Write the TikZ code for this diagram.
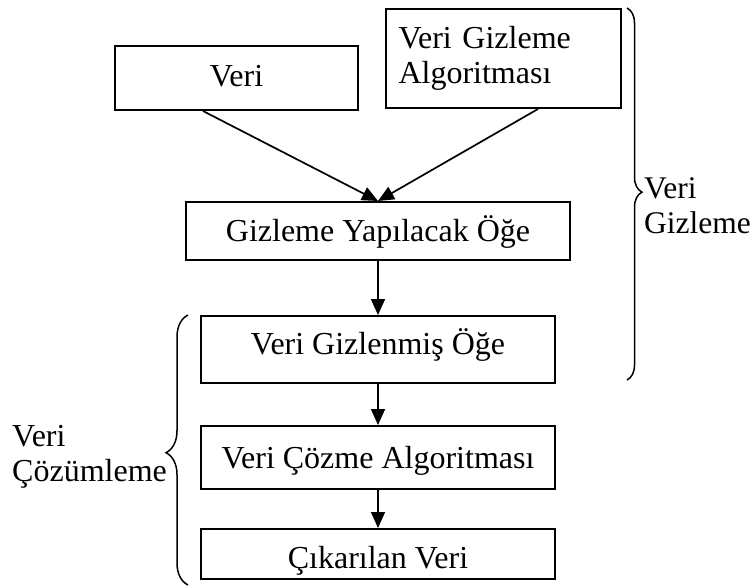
\documentclass[tikz,border=0pt]{standalone}
\usepackage{fontspec}
\setmainfont{Liberation Serif}
\usetikzlibrary{arrows.meta,decorations.pathreplacing}
\begin{document}
\begin{tikzpicture}[x=1pt,y=-1pt,
  font=\fontsize{32}{35}\selectfont,
  box/.style={draw, line width=2pt, inner xsep=0pt, inner ysep=0pt,
              anchor=north west, align=center},
  link/.style={line width=1.7pt, -{Triangle[length=16pt,width=14pt]}},
  curly/.style={line width=1.5pt, decorate,
                decoration={brace, amplitude=15pt, aspect=0.5}},
  label/.style={anchor=base west, inner sep=0pt, align=left}
]
\useasboundingbox (0,0) rectangle (752,587);

% hiding stage
\node[box, minimum width=243pt, text height=40pt, text depth=24pt]
  (veri) at (114,45) {Veri};
\node[box, minimum width=235pt, minimum height=99pt, text width=210pt, align=left]
  (algo) at (385,8) {Veri Gizleme\\Algoritması};
\node[box, minimum width=384pt, text height=39pt, text depth=19pt]
  (gy) at (185,201) {Gizleme Yapılacak Öğe};
\node[box, minimum width=354pt, text height=38pt, text depth=29pt]
  (vgo) at (200,315) {Veri Gizlenmiş Öğe};

% extraction stage
\node[box, minimum width=354pt, text height=42pt, text depth=21pt]
  (vca) at (200,425) {Veri Çözme Algoritması};
\node[box, minimum width=354pt, text height=39pt, text depth=11pt]
  (cv) at (200,528) {Çıkarılan Veri};

% flow
\draw[link] ([xshift=-33.5pt]veri.south) -- (gy.north);
\draw[link] ([xshift=34.5pt]algo.south) -- (gy.north);
\draw[link] (gy) -- (vgo);
\draw[link] (vgo) -- (vca);
\draw[link] (vca) -- (cv);

% stage braces (multi-line labels sit on their last baseline)
\coordinate (gTop) at (627,8);
\coordinate (gBot) at (627,380);
\draw[curly, decoration={aspect=0.495}] (gTop) -- (gBot);
\node[label, font=\fontsize{31.5}{35}\selectfont] (gLbl) at (644,233) {Veri\\Gizleme};

\coordinate (cTop) at (188,315);
\coordinate (cBot) at (188,585);
\draw[curly, decoration={aspect=0.49, amplitude=22pt}] (cBot) -- (cTop);
\node[label] (cLbl) at (12,481) {Veri\\Çözümleme};
\end{tikzpicture}
\end{document}
